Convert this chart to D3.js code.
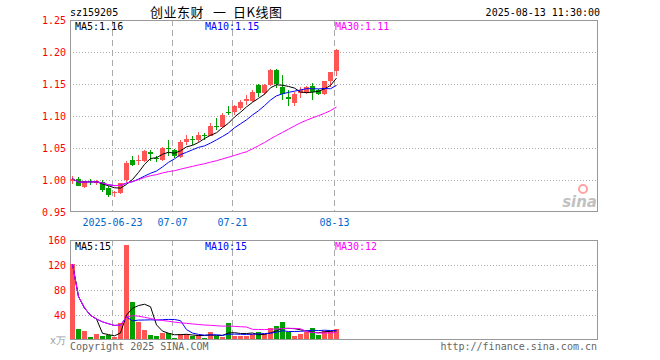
<!DOCTYPE html>
<html>
<head>
<meta charset="utf-8">
<script src="https://cdn.jsdelivr.net/npm/d3@7"></script>
<style>
  body { margin: 0; background: #fff; }
  text { font-family: "DejaVu Sans Mono", monospace; font-size: 10px; }
</style>
</head>
<body>
<svg id="chart" width="660" height="360"></svg>
<script>
// trading days shown (listing day 2025-06-12 .. 2025-08-13)
const dates = ["06-12","06-13","06-16","06-17","06-18","06-19","06-20","06-23","06-24","06-25",
  "06-26","06-27","06-30","07-01","07-02","07-03","07-04","07-07","07-08","07-09",
  "07-10","07-11","07-14","07-15","07-16","07-17","07-18","07-21","07-22","07-23",
  "07-24","07-25","07-28","07-29","07-30","07-31","08-01","08-04","08-05","08-06",
  "08-07","08-08","08-11","08-12","08-13"];

const open  = [0.998,1.002,0.989,0.998,0.995,0.997,0.987,0.979,0.979,1.000,
  1.031,1.030,1.030,1.044,1.035,1.031,1.050,1.047,1.036,1.060,
  1.064,1.062,1.070,1.069,1.085,1.083,1.107,1.106,1.112,1.123,
  1.123,1.148,1.136,1.148,1.172,1.146,1.129,1.121,1.136,1.136,
  1.147,1.141,1.134,1.154,1.170];
const high  = [1.006,1.004,0.999,1.002,1.000,1.000,0.990,0.983,0.996,1.029,
  1.037,1.039,1.047,1.047,1.037,1.052,1.062,1.049,1.062,1.070,
  1.068,1.075,1.073,1.089,1.097,1.104,1.116,1.117,1.125,1.133,
  1.140,1.150,1.150,1.173,1.173,1.164,1.141,1.137,1.146,1.147,
  1.151,1.142,1.155,1.169,1.205];
const low   = [0.994,0.990,0.987,0.992,0.992,0.982,0.974,0.974,0.978,0.997,
  1.022,1.023,1.028,1.029,1.028,1.030,1.037,1.034,1.034,1.055,
  1.055,1.060,1.062,1.068,1.078,1.081,1.102,1.102,1.109,1.117,
  1.122,1.130,1.133,1.147,1.144,1.125,1.116,1.116,1.128,1.135,
  1.125,1.133,1.133,1.146,1.163];
const close = [1.002,0.991,0.998,0.997,0.998,0.985,0.977,0.982,0.995,1.027,
  1.023,1.032,1.045,1.041,1.033,1.050,1.048,1.037,1.060,1.064,
  1.062,1.070,1.068,1.085,1.084,1.102,1.105,1.116,1.122,1.126,
  1.138,1.136,1.148,1.172,1.150,1.134,1.127,1.135,1.141,1.146,
  1.137,1.134,1.154,1.168,1.203];
// volume, in 万
const volume = [121.2,17.8,14.5,4.8,9.7,6.5,7.6,4.8,28,152,
  61.4,29.1,15.7,8.1,6.5,11.8,11.8,3.7,9.2,9.2,
  6,7.6,3.7,13.4,6.5,4.8,27.5,6.5,6.5,6.5,
  9.2,13.4,9.2,18.9,22.6,29.1,13.4,6.5,10.2,13.4,
  19.4,8.1,14.5,14.5,17.8];

const priceTicks = [0.95, 1.00, 1.05, 1.10, 1.15, 1.20, 1.25];
const volTicks = [40, 80, 120, 160];
const markDates = ["06-23", "07-07", "07-21", "08-13"];
const markLabels = ["2025-06-23", "07-07", "07-21", "08-13"];
const maPeriods = [5, 10, 30];
const maColors = ["#000", "#00f", "#f0f"];
const titleParts = ["创业东财", "一", "日K线图"];

const RED = "#ff5555", GREEN = "#00a000";

const svg = d3.select("#chart");
const left = 70, right = 597;

const x = d3.scalePoint().domain(dates).range([72, 336]);
const y = d3.scaleLinear().domain([0.95, 1.25]).range([212, 20]);
const yv = d3.scaleLinear().domain([0, 160]).range([340, 240]);

// moving average over what is available (new listing)
function ma(arr, n) {
  return arr.map((_, i) => d3.mean(arr.slice(Math.max(0, i - n + 1), i + 1)));
}

// header
svg.append("text").attr("x", 70).attr("y", 16).attr("fill", "#000").text("sz159205");
svg.selectAll(".title").data(titleParts).enter().append("text")
  .attr("x", (d, i) => [150, 213, 233][i]).attr("y", 17)
  .style("font-family", "'Noto Sans CJK SC', sans-serif").style("font-size", "13px")
  .style("letter-spacing", "0.5px")
  .text(d => d);
svg.append("text").attr("x", 600).attr("y", 16).attr("text-anchor", "end").text("2025-08-13 11:30:00");

function panel(top, bottom, scale, ticks, fmt) {
  const g = svg.append("g");
  g.selectAll(".grid").data(ticks.filter(t => Math.round(scale(t)) > top && Math.round(scale(t)) < bottom))
    .enter().append("line")
    .attr("x1", left).attr("x2", right)
    .attr("y1", d => Math.round(scale(d)) + 0.5).attr("y2", d => Math.round(scale(d)) + 0.5)
    .attr("stroke", "#aaa").attr("stroke-dasharray", "1,2");
  g.selectAll(".vl").data(markDates).enter().append("line")
    .attr("x1", d => x(d) - 1.5).attr("x2", d => x(d) - 1.5)
    .attr("y1", top).attr("y2", bottom)
    .attr("stroke", "#aaa").attr("stroke-dasharray", "6,4");
  g.append("rect").attr("x", left + 0.5).attr("y", top + 0.5)
    .attr("width", right - left).attr("height", bottom - top)
    .attr("fill", "none").attr("stroke", "#999");
  g.selectAll(".lab").data(ticks).enter().append("text")
    .attr("x", 66).attr("y", d => scale(d)).attr("dy", "0.35em")
    .attr("text-anchor", "end").attr("fill", "#f00")
    .text(fmt);
  return g;
}

panel(20, 211, y, priceTicks, d3.format(".2f"));
panel(240, 339, yv, volTicks, d => d);

// date labels
svg.selectAll(".dl").data(markDates).enter().append("text")
  .attr("x", d => x(d) - 1.5).attr("y", 226).attr("text-anchor", "middle")
  .attr("fill", "#0066cc").text((d, i) => markLabels[i]);

svg.append("text").attr("x", 66).attr("y", 344).attr("text-anchor", "end")
  .attr("fill", "#999").text("x万");

// candles
const idx = d3.range(dates.length);
const col = i => close[i] >= open[i] ? RED : GREEN;
const cg = svg.append("g").attr("shape-rendering", "crispEdges");
cg.selectAll(".wick").data(idx).enter().append("line")
  .attr("x1", i => x(dates[i]) + 0.5).attr("x2", i => x(dates[i]) + 0.5)
  .attr("y1", i => y(high[i])).attr("y2", i => y(low[i]))
  .attr("stroke", col);
cg.selectAll(".body").data(idx).enter().append("rect")
  .attr("x", i => x(dates[i]) - 2).attr("width", 5)
  .attr("y", i => y(Math.max(open[i], close[i])))
  .attr("height", i => Math.max(1, y(Math.min(open[i], close[i])) - y(Math.max(open[i], close[i]))))
  .attr("fill", col);

// volume bars
cg.selectAll(".vol").data(idx).enter().append("rect")
  .attr("x", i => x(dates[i]) - 2).attr("width", 5)
  .attr("y", i => yv(volume[i]))
  .attr("height", i => 339 - yv(volume[i]))
  .attr("fill", col);

// moving averages + legends
const legendX = [75, 205, 335];
maPeriods.forEach((n, k) => {
  const pm = ma(close, n), vm = ma(volume, n);
  svg.append("path").datum(pm)
    .attr("fill", "none").attr("stroke", maColors[k]).attr("stroke-width", 1)
    .attr("d", d3.line().x((d, i) => x(dates[i]) + 0.5).y(d => y(d)));
  svg.append("path").datum(vm)
    .attr("fill", "none").attr("stroke", maColors[k]).attr("stroke-width", 1)
    .attr("d", d3.line().x((d, i) => x(dates[i]) + 0.5).y(d => yv(d)));
  svg.append("text").attr("x", legendX[k]).attr("y", 30).attr("fill", maColors[k])
    .text("MA" + n + ":" + d3.format(".2f")(pm[pm.length - 1]));
  svg.append("text").attr("x", legendX[k]).attr("y", 250).attr("fill", maColors[k])
    .text("MA" + n + ":" + Math.round(vm[vm.length - 1]));
});

// footer
svg.append("text").attr("x", 70).attr("y", 350).attr("fill", "#666").text("Copyright 2025 SINA.COM");
svg.append("text").attr("x", 597).attr("y", 350).attr("text-anchor", "end").attr("fill", "#666")
  .text("http://finance.sina.com.cn");

// watermark
const wm = svg.append("g").attr("opacity", 0.6);
wm.append("circle").attr("cx", 583).attr("cy", 189).attr("r", 4)
  .attr("fill", "none").attr("stroke", "#f66").attr("stroke-width", 2);
wm.append("text").attr("x", 597).attr("y", 207).attr("text-anchor", "end")
  .style("font-family", "'DejaVu Sans', sans-serif").style("font-size", "15px")
  .style("font-style", "italic").style("font-weight", "bold")
  .attr("fill", "#999").text("sina");
</script>
</body>
</html>
